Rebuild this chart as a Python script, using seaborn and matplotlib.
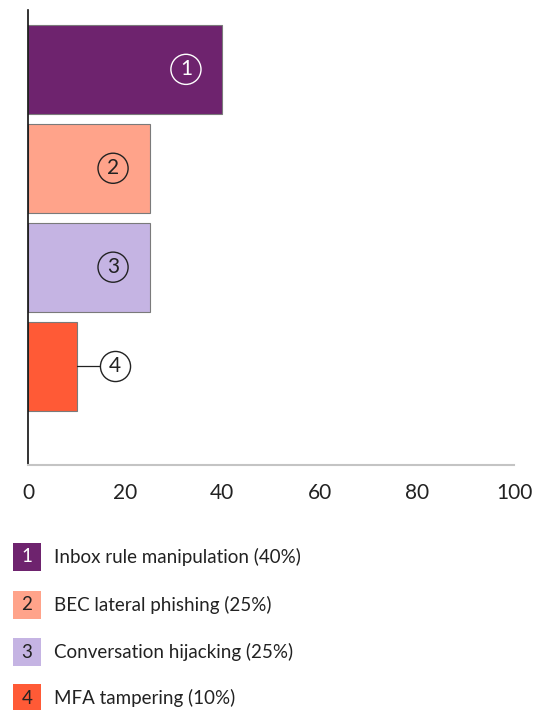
import matplotlib
matplotlib.use("Agg")
import matplotlib.pyplot as plt
import seaborn as sns
import pandas as pd
from matplotlib.patches import Rectangle

# data
categories = ["Inbox rule manipulation", "BEC lateral phishing",
              "Conversation hijacking", "MFA tampering"]
numbers = ["1", "2", "3", "4"]
values = [40, 25, 25, 10]
colors = ["#6E236E", "#FFA38A", "#C5B4E3", "#FF5A36"]
x_ticks = [0, 20, 40, 60, 80, 100]

sns.set_theme(style="white")
plt.rcParams["font.family"] = ["Lato", "DejaVu Sans"]

W, H = 533, 710
fig = plt.figure(figsize=(W / 100, H / 100), dpi=100)
ax = fig.add_axes([28 / W, 1 - 465 / H, (514 - 28) / W, (465 - 10) / H])

df = pd.DataFrame({"cat": categories, "val": values})
sns.barplot(data=df, x="val", y="cat", hue="cat", palette=colors, orient="h",
            width=0.9, legend=False, ax=ax, edgecolor="#7a7a7a", linewidth=0.8,
            saturation=1)

ax.set_xlim(0, 100)
ax.set_ylim(4.0, -0.6)
ax.set_xticks(x_ticks)
ax.set_xticklabels([str(t) for t in x_ticks], fontsize=15, color="#222222")
ax.set_yticks([])
ax.set_xlabel("")
ax.set_ylabel("")
ax.tick_params(axis="x", length=0, pad=13)
for s in ["top", "right"]:
    ax.spines[s].set_visible(False)
ax.spines["left"].set_color("#111111")
ax.spines["left"].set_linewidth(1.2)
ax.spines["bottom"].set_color("#c4c4c4")
ax.spines["bottom"].set_linewidth(1.5)

# numbered circles on the bars
for i, (n, v) in enumerate(zip(numbers, values)):
    inside = v > 20
    cx = v - 7.5 if inside else 17.9
    edge = "white" if i == 0 else "#222222"
    if not inside:
        ax.plot([v, cx], [i, i], color="#222222", lw=0.9, zorder=3)
    ax.scatter([cx], [i], s=470, facecolors=("none" if inside else "white"),
               edgecolors=edge, linewidths=1.0, zorder=4)
    ax.text(cx, i, n, ha="center", va="center", fontsize=15, color=edge, zorder=5)

# legend with numbered squares
leg_y = [557, 605, 652, 698]
for n, c, lab, v, yc in zip(numbers, colors, categories, values, leg_y):
    fig.add_artist(Rectangle((13 / W, 1 - (yc + 14) / H), 28 / W, 28 / H,
                             transform=fig.transFigure, facecolor=c, edgecolor="none"))
    fig.text(27 / W, 1 - yc / H, n, ha="center", va="center", fontsize=13.5,
             color="white" if n == "1" else "#222222")
    fig.text(54 / W, 1 - yc / H, f"{lab} ({v}%)", ha="left", va="center",
             fontsize=13.5, color="#222222")

fig.savefig("out.png", dpi=100)
